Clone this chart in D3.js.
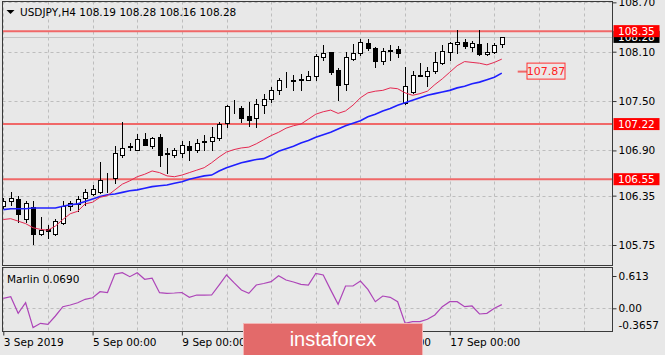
<!DOCTYPE html>
<html><head><meta charset="utf-8">
<script src="https://cdn.jsdelivr.net/npm/d3@7/dist/d3.min.js"></script>
<style>
html,body{margin:0;padding:0;background:#e8e8e8;}
svg{display:block;}
text{font-family:"DejaVu Sans",sans-serif;font-size:10.5px;fill:#000;}
</style></head><body>
<svg id="c" width="665" height="355"></svg>
<script>
// ---------------- data ----------------
const symbol = "USDJPY,H4";
const lastOHLC = ["108.19", "108.28", "108.16", "108.28"];
const open  = [106.22,106.28,106.31,106.07,106.21,105.88,105.95,105.88,106.02,106.22,
               106.25,106.32,106.37,106.40,106.56,106.56,106.85,106.94,106.91,107.04,
               106.95,107.06,106.86,106.84,106.87,106.95,106.90,107.00,107.01,107.05,
               107.23,107.41,107.42,107.32,107.29,107.45,107.52,107.63,107.75,107.74,
               107.76,107.76,107.81,108.04,108.10,107.88,107.71,108.01,108.08,108.21,
               108.14,107.99,108.11,108.13,107.48,107.61,107.81,107.80,107.86,107.96,
               108.10,108.19,108.22,108.16,108.19,108.07,108.10,108.19];
const high  = [106.32,106.40,106.34,106.28,106.28,106.09,105.99,106.07,106.28,106.28,
               106.34,106.43,106.48,106.76,106.63,106.95,107.24,106.99,107.10,107.11,
               107.06,107.10,106.93,106.93,107.02,107.01,107.04,107.09,107.18,107.24,
               107.45,107.51,107.44,107.49,107.53,107.59,107.67,107.78,107.85,107.82,
               107.83,107.86,108.07,108.18,108.10,107.90,108.10,108.19,108.25,108.26,
               108.16,108.14,108.18,108.17,107.91,107.86,107.96,107.92,108.10,108.18,
               108.22,108.36,108.25,108.23,108.36,108.20,108.20,108.28];
const low   = [106.20,106.24,106.03,106.03,105.76,105.87,105.83,105.87,106.01,106.18,
               106.16,106.24,106.36,106.38,106.40,106.50,106.82,106.91,106.90,106.96,
               106.93,106.71,106.62,106.82,106.82,106.78,106.88,106.91,106.91,107.03,
               107.19,107.35,107.25,107.20,107.19,107.35,107.49,107.59,107.67,107.63,
               107.63,107.76,107.76,108.00,107.83,107.51,107.63,108.00,108.06,108.12,
               107.91,107.95,108.00,108.04,107.46,107.60,107.80,107.68,107.84,107.95,
               108.00,108.08,108.14,108.11,108.06,108.06,108.09,108.16];
const close = [106.28,106.32,106.13,106.26,105.88,105.93,105.92,106.04,106.22,106.26,
               106.31,106.40,106.43,106.54,106.57,106.87,106.93,106.95,107.04,106.96,
               107.05,106.84,106.87,106.91,106.96,106.91,106.99,107.01,107.06,107.22,
               107.44,107.42,107.29,107.27,107.47,107.53,107.64,107.76,107.76,107.76,
               107.77,107.80,108.05,108.08,107.85,107.70,108.03,108.09,108.22,108.14,
               107.99,108.11,108.12,108.09,107.68,107.82,107.82,107.87,107.98,108.11,
               108.20,108.22,108.17,108.20,108.07,108.10,108.18,108.28];
const maFast = [106.06,106.07,106.04,106.01,105.96,105.94,105.93,105.98,106.06,106.13,
                106.16,106.25,106.27,106.33,106.35,106.42,106.49,106.53,106.58,106.61,
                106.65,106.63,106.59,106.58,106.60,106.63,106.66,106.69,106.75,106.82,
                106.88,106.91,106.93,106.94,106.98,107.03,107.08,107.12,107.17,107.20,
                107.22,107.28,107.34,107.37,107.39,107.35,107.38,107.45,107.54,107.60,
                107.62,107.63,107.66,107.65,107.60,107.57,107.59,107.62,107.70,107.77,
                107.85,107.93,107.98,107.97,107.96,107.94,107.97,108.01];
const maSlow = [106.18,106.19,106.19,106.19,106.20,106.20,106.20,106.20,106.22,106.24,
                106.25,106.28,106.31,106.34,106.36,106.37,106.39,106.41,106.42,106.44,
                106.46,106.47,106.48,106.50,106.52,106.55,106.57,106.59,106.60,106.65,
                106.69,106.72,106.75,106.77,106.79,106.80,106.84,106.89,106.92,106.95,
                106.99,107.02,107.06,107.09,107.12,107.16,107.20,107.23,107.26,107.31,
                107.34,107.38,107.41,107.45,107.48,107.51,107.54,107.57,107.59,107.61,
                107.63,107.66,107.68,107.71,107.73,107.76,107.79,107.84];
const marlin = [0.19,0.22,-0.095,0.106,-0.366,-0.285,-0.304,-0.146,0.03,0.063,
                0.106,0.171,0.20,0.315,0.30,0.65,0.675,0.60,0.675,0.55,
                0.57,0.296,0.285,0.29,0.30,0.209,0.252,0.25,0.252,0.44,
                0.632,0.486,0.347,0.285,0.442,0.47,0.505,0.619,0.537,0.50,
                0.455,0.442,0.664,0.632,0.35,0.076,0.423,0.423,0.518,0.36,
                0.125,0.233,0.209,0.125,-0.285,-0.254,-0.254,-0.209,-0.127,0.03,
                0.125,0.125,0.03,0.044,-0.108,-0.095,0,0.069];
const marlinName = "Marlin 0.0690";
const priceTicks = [108.70,108.10,107.50,106.90,106.35,105.75];
const levels = [108.35,107.22,106.55];
const bidPrice = 108.28;
const targetPrice = 107.87;
const timeTickIdx = [0,12,24,36,48,60];
const timeTickLabels = ["3 Sep 2019","5 Sep 00:00","9 Sep 00:00","11 Sep 00:00","13 Sep 00:00","17 Sep 00:00"];
const gridIdx = [0,6,12,18,24,30,36,42,48,54,60,66,72,78,84];
const indTicks = [0.613, 0, -0.3657];
const indTickLabels = ["0.613","0.00","-0.3657"];
const watermark = "instaforex";

// ---------------- layout ----------------
const L = 2.5, R = 612.5, mainTop = 1.5, mainBot = 265.5, indTop = 267.5, indBot = 331.5;
const svg = d3.select("#c");
const x = d3.scaleLinear().domain([0, 67]).range([3.3, 501.8]);
const y = d3.scaleLinear().domain([105.75, 108.10]).range([245, 51.7]);
const yi = d3.scaleLinear().domain([0, 0.613]).range([308.3, 276]);
const px = v => Math.round(x(v)) + 0.5;

svg.append("rect").attr("width",665).attr("height",355).attr("fill","#e8e8e8");

const defs = svg.append("defs");
defs.append("clipPath").attr("id","cm").append("rect")
  .attr("x",L).attr("y",mainTop).attr("width",R-L).attr("height",mainBot-mainTop);
defs.append("clipPath").attr("id","ci").append("rect")
  .attr("x",L).attr("y",indTop).attr("width",R-L).attr("height",indBot-indTop);

const gm = svg.append("g").attr("clip-path","url(#cm)");
const gi = svg.append("g").attr("clip-path","url(#ci)");

const gridCol = "#bdbdbd";
// horizontal grid (main)
gm.selectAll("line.hg").data(priceTicks).join("line")
  .attr("x1",L).attr("x2",R)
  .attr("y1",d=>Math.round(y(d))+0.5).attr("y2",d=>Math.round(y(d))+0.5)
  .attr("stroke",gridCol).attr("stroke-dasharray","3,3");
// vertical grid (main + indicator)
[gm, gi].forEach((g,k)=>{
  g.selectAll("line.vg").data(gridIdx).join("line")
    .attr("x1",d=>px(d)).attr("x2",d=>px(d))
    .attr("y1",k? indTop: mainTop).attr("y2",k? indBot: mainBot)
    .attr("stroke",gridCol).attr("stroke-dasharray","3,3");
});
gi.append("line").attr("x1",L).attr("x2",R)
  .attr("y1",Math.round(yi(0))+0.5).attr("y2",Math.round(yi(0))+0.5)
  .attr("stroke",gridCol).attr("stroke-dasharray","3,3");

// bid line
gm.append("line").attr("x1",L).attr("x2",R)
  .attr("y1",Math.round(y(bidPrice))+0.5).attr("y2",Math.round(y(bidPrice))+0.5)
  .attr("stroke","#c4c4c4");

// level lines
gm.selectAll("line.lv").data(levels).join("line")
  .attr("x1",L).attr("x2",R)
  .attr("y1",d=>y(d)).attr("y2",d=>y(d))
  .attr("stroke","#f06868").attr("stroke-width",2);

// candles
const idx = d3.range(open.length);
const cg = gm.append("g");
cg.selectAll("line.w").data(idx).join("line")
  .attr("x1",i=>px(i)).attr("x2",i=>px(i))
  .attr("y1",i=>Math.round(y(high[i]))).attr("y2",i=>Math.round(y(low[i]))+1)
  .attr("stroke","#000");
cg.selectAll("rect.b").data(idx).join("rect")
  .attr("x",i=>px(i)-2)
  .attr("width",4)
  .attr("y",i=>Math.round(y(Math.max(open[i],close[i])))+0.5)
  .attr("height",i=>Math.max(0, Math.round(y(Math.min(open[i],close[i]))) - Math.round(y(Math.max(open[i],close[i])))))
  .attr("fill",i=>close[i]>=open[i]?"#fff":"#000")
  .attr("stroke","#000");

// moving averages
const line = arr => d3.line().x((d,i)=>x(i)).y(d=>y(d))(arr);
gm.append("path").attr("d",line(maSlow)).attr("fill","none")
  .attr("stroke","#1f1fff").attr("stroke-width",1.6);
gm.append("path").attr("d",line(maFast)).attr("fill","none")
  .attr("stroke","#e42850").attr("stroke-width",1);

// marlin
gi.append("path").attr("d", d3.line().x((d,i)=>x(i)).y(d=>yi(d))(marlin))
  .attr("fill","none").attr("stroke","#ad45b8").attr("stroke-width",1.2);

// frames
svg.append("rect").attr("x",L).attr("y",mainTop).attr("width",R-L).attr("height",mainBot-mainTop)
  .attr("fill","none").attr("stroke","#3a3a3a");
svg.append("rect").attr("x",L).attr("y",indTop).attr("width",R-L).attr("height",indBot-indTop)
  .attr("fill","none").attr("stroke","#3a3a3a");

// price axis
const pa = svg.append("g").attr("transform",`translate(${R},0)`)
  .call(d3.axisRight(y).tickValues(priceTicks).tickFormat(d3.format(".2f")).tickSize(4).tickPadding(2));
pa.select(".domain").remove();
pa.selectAll(".tick line").attr("stroke","#333");
pa.selectAll("text").attr("fill","#000");

// indicator axis
const ia = svg.append("g").attr("transform",`translate(${R},0)`)
  .call(d3.axisRight(yi).tickValues(indTicks).tickFormat((d,i)=>indTickLabels[i]).tickSize(4).tickPadding(2));
ia.select(".domain").remove();
ia.selectAll(".tick line").attr("stroke","#333");
ia.selectAll(".tick").filter(d=>d<0).select("text").attr("dy","0.05em");
ia.selectAll(".tick").filter(d=>d<0).select("line").remove();

// time axis
const ta = svg.append("g").attr("transform",`translate(0,${indBot})`)
  .call(d3.axisBottom(x).tickValues(timeTickIdx).tickFormat((d,i)=>timeTickLabels[i]).tickSize(4).tickPadding(3));
ta.select(".domain").remove();
ta.selectAll(".tick line").attr("stroke","#333");
ta.selectAll("text").attr("text-anchor","start").attr("x",0);

// bid label (black) then level labels (red)
const lab = svg.append("g");
lab.append("rect").attr("x",R+1).attr("y",y(bidPrice)-6).attr("width",46).attr("height",12).attr("fill","#000");
lab.append("text").attr("x",R+5.5).attr("y",y(bidPrice)).attr("dy","0.35em").style("fill","#fff").text(bidPrice.toFixed(2));
levels.forEach(v=>{
  lab.append("rect").attr("x",R+1).attr("y",y(v)-6).attr("width",46).attr("height",12).attr("fill","#ff0000");
  lab.append("text").attr("x",R+5.5).attr("y",y(v)).attr("dy","0.35em").style("fill","#fff").text(v.toFixed(2));
});

// target label 107.87
const ty = y(targetPrice);
svg.append("line").attr("x1",517.7).attr("x2",527).attr("y1",ty+1).attr("y2",ty+1)
  .attr("stroke","#f06868").attr("stroke-width",2);
svg.append("rect").attr("x",527).attr("y",ty-7.5).attr("width",38).attr("height",16)
  .attr("fill","#ece6e6").attr("stroke","#ff3030");
svg.append("text").attr("x",546).attr("y",ty+0.5).attr("dy","0.35em").attr("text-anchor","middle")
  .style("fill","#ff2020").style("font-size","11px").text(targetPrice.toFixed(2));

// header
svg.append("path").attr("d","M6.5,10 L14.5,10 L10.5,14 Z").attr("fill","#000");
svg.append("text").attr("x",20).attr("y",12.5).attr("dy","0.35em")
  .text(symbol + "  " + lastOHLC.join(" "));

// indicator name
svg.append("text").attr("x",7).attr("y",279).attr("dy","0.35em").text(marlinName);

// watermark
svg.append("rect").attr("x",243.5).attr("y",323.5).attr("width",179).attr("height",40)
  .attr("fill","#e36a6a").attr("stroke","#f3b5b5").attr("stroke-width",1);
svg.append("text").attr("x",333).attr("y",346).attr("text-anchor","middle")
  .style("font-family","'Liberation Sans',Arial,sans-serif").style("font-size","20px")
  .style("fill","#ffffff").text(watermark);
</script>
</body></html>
